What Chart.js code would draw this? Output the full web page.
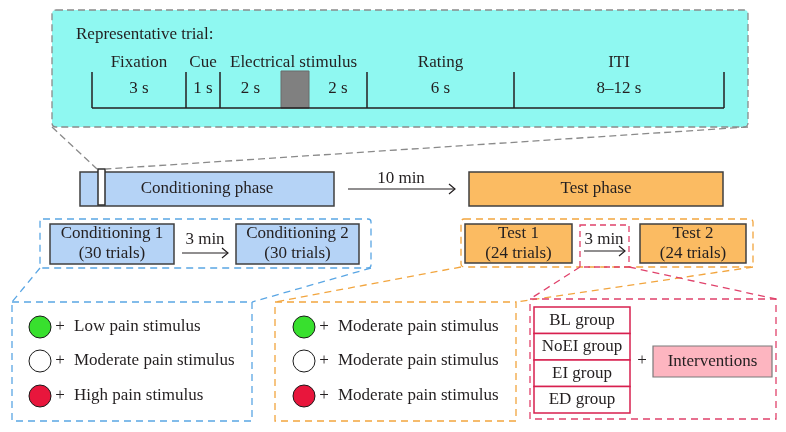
<!DOCTYPE html>
<html>
<head>
<meta charset="utf-8">
<script src="https://cdn.jsdelivr.net/npm/chart.js@4/dist/chart.umd.min.js"></script>
<style>
  html, body { margin: 0; padding: 0; background: #fff; }
  canvas { display: block; }
</style>
</head>
<body>
<canvas id="designChart" width="786" height="432"></canvas>
<script>
// ---- data ----
const trialTitle = 'Representative trial:';
const trialStages = ['Fixation', 'Cue', 'Electrical stimulus', 'Rating', 'ITI'];
const trialDurations = ['3 s', '1 s', '2 s', '2 s', '6 s', '8–12 s'];
const phaseNames = ['Conditioning phase', 'Test phase'];
const phaseGap = '10 min';
const blockNames = ['Conditioning 1', 'Conditioning 2', 'Test 1', 'Test 2'];
const blockTrials = [30, 30, 24, 24];
const blockGap = '3 min';
const cueColors = ['green', 'white', 'red'];
const conditioningPain = ['Low', 'Moderate', 'High'];
const testPain = ['Moderate', 'Moderate', 'Moderate'];
const groupNames = ['BL group', 'NoEI group', 'EI group', 'ED group'];
const interventionLabel = 'Interventions';

// ---- layout (diagram units = canvas px) ----
const layout = {
    trialBox: [52, 10, 748, 127],
    segBounds: [92, 186, 220, 281, 309, 367, 514, 724], // timeline segment edges
    stimSeg: 3,
    stageSegs: [[0, 0], [1, 1], [2, 4], [5, 5], [6, 6]],
    durationSegs: [0, 1, 2, 4, 5, 6],
    tickTop: 72, baseY: 108, stageY: 63, durY: 89,
    phaseBars: [[80, 172, 334, 206], [469, 172, 723, 206]],
    marker: [98, 169, 105, 205],
    blockBoxes: [[50, 224, 174, 264], [236, 224, 359, 264], [465, 224, 572, 263], [640, 224, 746, 263]],
    panels: [[12, 302, 252, 421], [275, 302, 516, 421], [530, 299, 776, 419]],
    rowY: [327, 361, 396],
    cueX: [40, 304],
    groupBox: [534, 307, 630, 413],
    interventionBox: [653, 346, 772, 377]
};

const styles = {
    ink: '#231f20',
    cyan: '#8ff8f1',
    stim: '#808080',
    blueFill: '#b5d3f6',
    orangeFill: '#fbbb62',
    pinkFill: '#fdb5c0',
    blueDash: '#5aa6e4',
    orangeDash: '#f2a53e',
    redDash: '#e0426b',
    grayDash: '#8a8a8a',
    cue: { green: '#38e02e', white: '#ffffff', red: '#e8163c' },
    font: '"Liberation Serif", "DejaVu Serif", serif',
    size: 17
};

// circles are real points on the chart
const cuePoints = [];
const cueFill = [];
layout.cueX.forEach(x => {
    cueColors.forEach((c, i) => {
        cuePoints.push({ x: x, y: layout.rowY[i] });
        cueFill.push(styles.cue[c]);
    });
});

function px(chart, x) { return chart.scales.x.getPixelForValue(x); }
function py(chart, y) { return chart.scales.y.getPixelForValue(y); }

const diagramPlugin = {
    id: 'diagram',
    beforeDatasetsDraw(chart) {
        const ctx = chart.ctx;
        const X = v => px(chart, v);
        const Y = v => py(chart, v);

        function rect(b, fill, stroke, lw, dash, r) {
            ctx.save();
            ctx.beginPath();
            const x = X(b[0]), y = Y(b[1]), w = X(b[2]) - x, h = Y(b[3]) - y;
            if (r) ctx.roundRect(x, y, w, h, r); else ctx.rect(x, y, w, h);
            if (fill) { ctx.fillStyle = fill; ctx.fill(); }
            if (stroke) {
                ctx.strokeStyle = stroke;
                ctx.lineWidth = lw || 1;
                ctx.setLineDash(dash || []);
                ctx.stroke();
            }
            ctx.restore();
        }
        function line(x1, y1, x2, y2, color, lw, dash) {
            ctx.save();
            ctx.beginPath();
            ctx.moveTo(X(x1), Y(y1));
            ctx.lineTo(X(x2), Y(y2));
            ctx.strokeStyle = color;
            ctx.lineWidth = lw || 1;
            ctx.setLineDash(dash || []);
            ctx.stroke();
            ctx.restore();
        }
        function arrow(x1, x2, y) {
            line(x1, y, x2, y, styles.ink, 1.2);
            ctx.save();
            ctx.beginPath();
            ctx.moveTo(X(x2 - 6), Y(y - 5));
            ctx.lineTo(X(x2), Y(y));
            ctx.lineTo(X(x2 - 6), Y(y + 5));
            ctx.strokeStyle = styles.ink;
            ctx.lineWidth = 1.2;
            ctx.stroke();
            ctx.restore();
        }
        function text(str, x, y, align) {
            ctx.save();
            ctx.font = styles.size + 'px ' + styles.font;
            ctx.fillStyle = styles.ink;
            ctx.textAlign = align || 'center';
            ctx.textBaseline = 'middle';
            ctx.fillText(str, X(x), Y(y));
            ctx.restore();
        }

        // trial panel
        const tb = layout.trialBox;
        rect(tb, styles.cyan, styles.grayDash, 1.3, [7, 4], 4);
        text(trialTitle, 76, 35, 'left');
        const sb = layout.segBounds;
        const s = layout.stimSeg;
        rect([sb[s], layout.tickTop - 1, sb[s + 1], layout.baseY], styles.stim, '#6a6a6a', 1);
        line(sb[0], layout.baseY, sb[sb.length - 1], layout.baseY, styles.ink, 1.5);
        sb.forEach((b, i) => {
            if (i === s || i === s + 1) return;
            line(b, layout.tickTop, b, layout.baseY, styles.ink, 1.5);
        });
        trialStages.forEach((name, i) => {
            const seg = layout.stageSegs[i];
            text(name, (sb[seg[0]] + sb[seg[1] + 1]) / 2, layout.stageY);
        });
        trialDurations.forEach((d, i) => {
            const seg = layout.durationSegs[i];
            text(d, (sb[seg] + sb[seg + 1]) / 2, layout.durY);
        });

        // zoom lines from the trial panel to the marker
        const mk = layout.marker;
        line(tb[0], tb[3], mk[0] - 1, mk[1], styles.grayDash, 1.3, [7, 4]);
        line(tb[2], tb[3], mk[2] + 1, mk[1], styles.grayDash, 1.3, [7, 4]);

        // phases
        const phaseFill = [styles.blueFill, styles.orangeFill];
        layout.phaseBars.forEach((b, i) => {
            rect(b, phaseFill[i], '#404040', 1.5);
            text(phaseNames[i], (b[0] + b[2]) / 2, (b[1] + b[3]) / 2);
        });
        rect(mk, '#ffffff', '#303030', 1.5);
        text(phaseGap, 401, 179);
        arrow(348, 455, 189);

        // block groupings
        rect([40, 219, 371, 268], null, styles.blueDash, 1.3, [7, 5], 3);
        rect([461, 219, 753, 267], null, styles.orangeDash, 1.3, [7, 5], 3);
        layout.blockBoxes.forEach((b, i) => {
            rect(b, i < 2 ? styles.blueFill : styles.orangeFill, '#404040', 1.5);
            const cx = (b[0] + b[2]) / 2;
            text(blockNames[i], cx, b[1] + 9.5);
            text('(' + blockTrials[i] + ' trials)', cx, b[1] + 30);
        });
        text(blockGap, 205, 240);
        arrow(182, 228, 253);
        rect([580, 225, 629, 267], null, styles.redDash, 1.3, [6, 4]);
        text(blockGap, 604, 240);
        arrow(584, 625, 251);

        // connectors to the bottom panels
        line(40, 268, 12, 302, styles.blueDash, 1.3, [7, 5]);
        line(371, 268, 252, 302, styles.blueDash, 1.3, [7, 5]);
        line(461, 267, 275, 302, styles.orangeDash, 1.3, [7, 5]);
        line(753, 267, 516, 302, styles.orangeDash, 1.3, [7, 5]);
        line(580, 267, 530, 299, styles.redDash, 1.3, [7, 5]);
        line(629, 267, 776, 299, styles.redDash, 1.3, [7, 5]);

        // bottom panels
        const pc = [styles.blueDash, styles.orangeDash, styles.redDash];
        layout.panels.forEach((p, i) => rect(p, null, pc[i], 1.3, [7, 5]));
        [conditioningPain, testPain].forEach((list, k) => {
            const x0 = layout.cueX[k];
            list.forEach((lvl, i) => {
                const y = layout.rowY[i];
                text('+', x0 + 20, y, 'center');
                text(lvl + ' pain stimulus', x0 + 34, y, 'left');
            });
        });

        // groups
        const gb = layout.groupBox;
        const gh = (gb[3] - gb[1]) / groupNames.length;
        groupNames.forEach((g, i) => {
            const b = [gb[0], gb[1] + i * gh, gb[2], gb[1] + (i + 1) * gh];
            rect(b, '#ffffff', '#d8204f', 1.5);
            text(g, (gb[0] + gb[2]) / 2, (b[1] + b[3]) / 2);
        });
        const ib = layout.interventionBox;
        text('+', 642, 361);
        rect(ib, styles.pinkFill, '#7a7a7a', 1.2);
        text(interventionLabel, (ib[0] + ib[2]) / 2, (ib[1] + ib[3]) / 2);
    }
};

const ctx = document.getElementById('designChart').getContext('2d');
new Chart(ctx, {
    type: 'scatter',
    data: {
        datasets: [{
            label: 'cues',
            data: cuePoints,
            pointRadius: 11,
            pointHoverRadius: 11,
            backgroundColor: cueFill,
            borderColor: '#1a1a1a',
            borderWidth: 1,
            clip: false
        }]
    },
    options: {
        responsive: false,
        animation: false,
        events: [],
        layout: { padding: 0, autoPadding: false },
        plugins: {
            legend: { display: false },
            tooltip: { enabled: false }
        },
        scales: {
            x: { type: 'linear', min: 0, max: 786, display: false },
            y: { type: 'linear', min: 0, max: 432, reverse: true, display: false }
        }
    },
    plugins: [diagramPlugin]
});
</script>
</body>
</html>
